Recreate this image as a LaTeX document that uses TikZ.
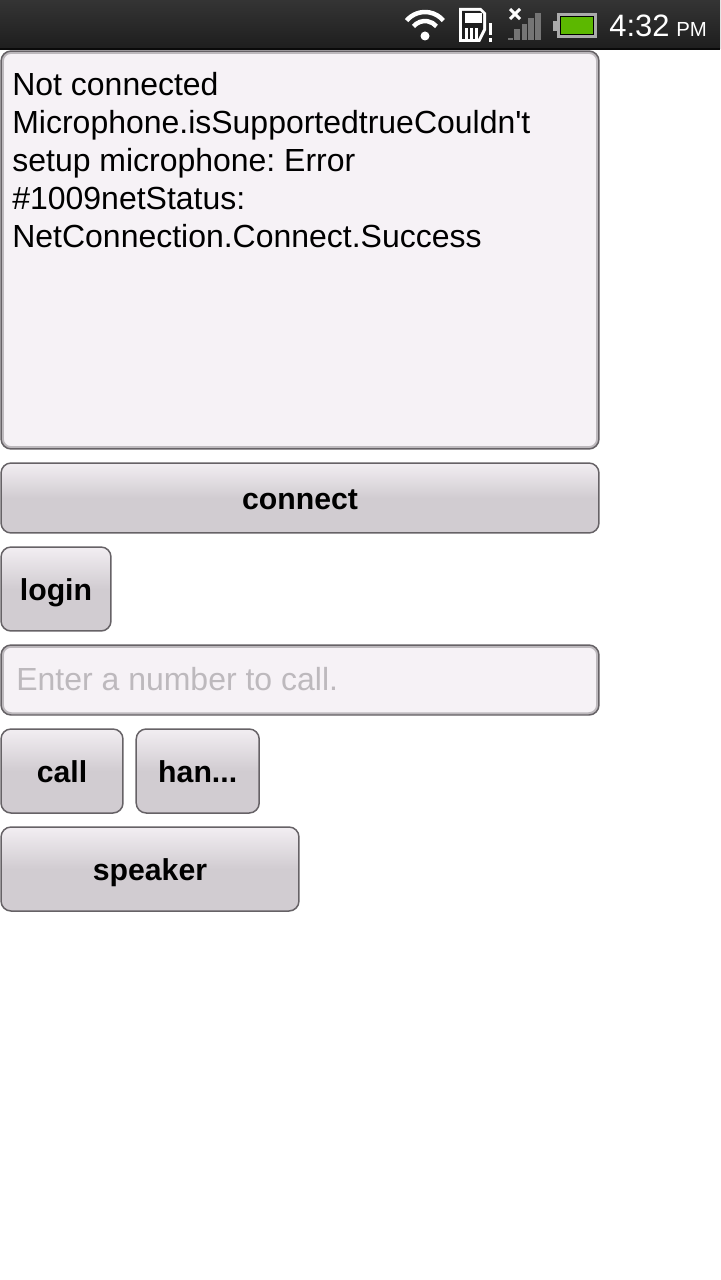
\documentclass[tikz,border=0pt]{standalone}
\usepackage{fontspec}
\setmainfont{Liberation Sans}
\usetikzlibrary{calc}

\definecolor{baredge}{HTML}{0A0A0A}
\definecolor{bartop}{HTML}{343434}
\definecolor{barlow}{HTML}{1E1E1E}
\definecolor{boxedge}{HTML}{666266}
\definecolor{boxinner}{HTML}{BDB9BD}
\definecolor{boxfill}{HTML}{F6F2F6}
\definecolor{btntop}{HTML}{F2EEF2}
\definecolor{btnlow}{HTML}{D1CCD1}
\definecolor{hintgray}{HTML}{BDB9BD}
\definecolor{barsgray}{HTML}{757575}
\definecolor{batgray}{HTML}{ABABAB}
\definecolor{batgreen}{HTML}{5CB800}

\pgfdeclareverticalshading{btnshade}{100bp}{color(0bp)=(btnlow); color(50bp)=(btnlow); color(75bp)=(btntop); color(100bp)=(btntop)}

\tikzset{
  btnbox/.style={rounded corners=0.2cm, draw=boxedge, line width=0.03cm, shading=btnshade, outer sep=0pt, inner sep=0pt,
    font=\fontsize{17.2}{20}\selectfont\bfseries, text=black, text height=0.5cm, text depth=0.04cm},
  fieldbox/.style={rounded corners=0.2cm, draw=boxedge, line width=0.03cm, fill=boxfill, outer sep=0pt, inner sep=0pt,
    path picture={\draw[boxinner, line width=0.11cm, rounded corners=0.2cm]
      (path picture bounding box.south west) rectangle (path picture bounding box.north east);}},
  fieldtext/.style={anchor=base west, inner sep=0pt, font=\fontsize{18.2}{21.63}\selectfont\frenchspacing},
  signalbar/.style={fill=barsgray},
  clocktext/.style={anchor=base west, inner sep=0pt, text=white},
}

\begin{document}
\begin{tikzpicture}[x=0.02cm, y=-0.02cm]
  \useasboundingbox (0,0) rectangle (720,1280);
  \fill[white] (0,0) rectangle (720,1280);

  % status bar
  \fill[top color=bartop, bottom color=barlow] (0,0) rectangle (720,49);
  \fill[baredge] (0,48) rectangle (720,50);

  % wifi
  \coordinate (W) at (425,36);
  \fill[white] (W) circle (4.5);
  \draw[white, line width=0.09cm] ($(W)+(-11.5,-9.6)$) arc[start angle=220, end angle=320, radius=15];
  \draw[white, line width=0.09cm] ($(W)+(-18.4,-15.4)$) arc[start angle=220, end angle=320, radius=24];

  % sd card
  \fill[white] (459,8) -- (481,8) -- (486,13) -- (486,30) -- (480,42) -- (459,42) -- cycle;
  \fill[barlow] (462,11) -- (480,11) -- (483,14) -- (483,29) -- (478,39) -- (462,39) -- cycle;
  \fill[white] (465,13) rectangle (482,23);
  \foreach \xs in {465,470,475} {
    \fill[white] (\xs,28) rectangle (\xs+3,39);
  }
  \fill[white] (489,23) rectangle (492,35);
  \fill[white] (489,38) rectangle (492,42);

  % signal
  \draw[white, line width=0.06cm] (510,9) -- (520,19);
  \draw[white, line width=0.06cm] (520,9) -- (510,19);
  \fill[signalbar] (508,38) rectangle (513,40);
  \fill[signalbar] (514,29) rectangle (520,40);
  \fill[signalbar] (522,24) rectangle (527,40);
  \fill[signalbar] (528,18) rectangle (534,40);
  \fill[signalbar] (535,13) rectangle (541,40);

  % battery
  \fill[batgray] (553,21) rectangle (558,31);
  \fill[batgray] (557,13) rectangle (597,38);
  \fill[black] (560,16) rectangle (594,35);
  \fill[batgreen] (561,17) rectangle (593,34);

  % clock
  \node[clocktext, font=\fontsize{17.6}{20}\selectfont] (clock) at (609,37) {4:32};
  \node[clocktext, font=\fontsize{11.6}{14}\selectfont] (ampm) at (676,37) {PM};

  % log area
  \node[fieldbox, minimum width=11.96cm, minimum height=7.96cm] (logbox) at (300,250) {};
  \node[fieldtext, align=left] (logtext) at (12,248) {Not connected\\Microphone.isSupportedtrueCouldn\textquotesingle t\\setup microphone: Error\\\#1009netStatus:\\NetConnection.Connect.Success};

  % buttons
  \node[btnbox, minimum width=11.96cm, minimum height=1.4cm] (connect) at (300,498) {connect};
  \node[btnbox, minimum width=2.2cm, minimum height=1.68cm] (login) at (56,589) {login};
  \node[fieldbox, minimum width=11.96cm, minimum height=1.4cm] (numberbox) at (300,680) {};
  \node[fieldtext, text=hintgray] (numberhint) at (16,690) {Enter a number to call.};
  \node[btnbox, minimum width=2.44cm, minimum height=1.68cm] (call) at (62,771) {call};
  \node[btnbox, minimum width=2.46cm, minimum height=1.68cm] (hangup) at (197.7,771) {han...};
  \node[btnbox, minimum width=5.96cm, minimum height=1.68cm] (speaker) at (150,869) {speaker};
\end{tikzpicture}
\end{document}
